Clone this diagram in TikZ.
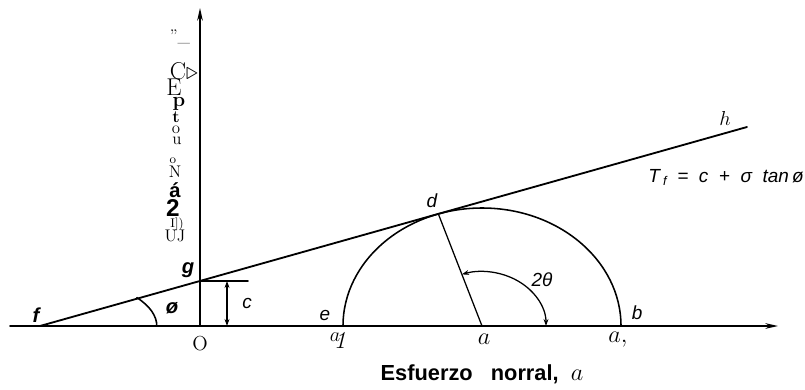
\documentclass[tikz,border=0pt]{standalone}
\usepackage{amsmath,amssymb}
\usepackage{fontspec}
\setsansfont{Liberation Sans}
\usepackage{tikz}
\usetikzlibrary{arrows.meta,positioning,calc}

\begin{document}
\begin{tikzpicture}[line cap=round,every node/.style={font=\fontsize{13.5}{16}\sffamily\itshape,inner sep=1pt},
 axis/.style={line width=1.1pt,-{Stealth[length=9pt,width=4pt]}},
 envol/.style={line width=1.3pt},
 mohr/.style={line width=1.1pt},
 cota/.style={line width=0.9pt,{Stealth[length=5pt,width=3.5pt]}-{Stealth[length=5pt,width=3.5pt]}},
 rlbl/.style={font=\LARGE\rmfamily}]
\useasboundingbox (-5,-1.575) rectangle (15.125,8.15);
\coordinate (O) at (0,0);\coordinate (f) at (-4,0);
\coordinate (g) at (0,1.126);\coordinate (h) at (13.675,4.975);
\coordinate (a) at (7.05,0);\coordinate (e) at (3.575,0);\coordinate (b) at (10.525,0);
\path (a) ++(108.3:3.475 and 2.95) coordinate (d);
\coordinate (xs) at (-4.75,0);\coordinate (xe) at (14.45,0);\coordinate (ye) at (0,7.95);
\coordinate (gc) at (1.2,1.126);
\coordinate (c1) at (0.675,1.126);\coordinate (c0) at (0.675,0);
% axes
\draw[axis] (xs)--(xe);
\draw[axis] (O)--(ye);
% envelope and circle
\draw[envol] (f)--(h);
\draw[mohr] (e) arc[start angle=180,end angle=0,x radius=3.475,y radius=2.95];
\draw[mohr,line width=0.9pt] (a)--(d);
\draw[cota] ($(a)+(1.6,0)$) arc[start angle=0,end angle=108.3,x radius=1.6,y radius=1.36];
\draw[mohr] ($(f)+(2.92,0)$) arc[start angle=0,end angle=34,x radius=2.92,y radius=1.27];
\draw[mohr] (g)--(gc);
\draw[cota] (c1)--(c0);
% labels
\node[font=\Large\sffamily\itshape\bfseries] (fl) at (-4.1,0.27) {f};
\node[font=\Large\sffamily\itshape\bfseries] (gl) at (-0.3,1.4) {g};
\node[font=\Large\sffamily\itshape\bfseries] (phil) at (-0.7,0.45) {ø};
\node (cl) at (1.18,0.575) {c};
\node[font=\Large\rmfamily] (Ol) at (0,-0.43) {O};
\node (el) at (3.125,0.275) {e};
\node[font=\rmfamily] (ql) at (3.45,-0.35) {\raisebox{.5ex}{\Large$a$}\kern-.45em\raisebox{-.6ex}{\LARGE\itshape 1}};
\node[rlbl] (al) at (7.1,-0.33) {$a$};
\node[rlbl] (a1l) at (10.45,-0.35) {$a,$};
\node (bl) at (10.93,0.325) {b};
\node (dl) at (5.8,3.125) {d};
\node (thl) at (8.55,1.15) {2θ};
\node[font=\Large\rmfamily] (hl) at (13.125,5.2) {$h$};
\node[anchor=east,inner sep=0pt] (law) at (15.1,3.72) {T\,{\small\raisebox{-0.4ex}{f}}\ \ =\ \ c\ \ +\ \ σ\ \ tan\,ø};
\node[font=\fontsize{15.5}{18}\sffamily\bfseries] (eje) at (7.05,-1.2) {Esfuerzo\ \ \ norral,\ \ {\LARGE$a$}};
% vertical axis text
\foreach \x/\y/\t [count=\i] in {-0.5/7.225/{\large\rmfamily\upshape ''\_},
  -0.4/6.375/{\LARGE\rmfamily\upshape C$\triangleright$},
  -0.65/5.97/{\LARGE\rmfamily\upshape E},
  -0.525/5.56/{\Large\rmfamily\upshape\bfseries p},
  -0.6/5.22/{\large\rmfamily\upshape\bfseries t},
  -0.6/4.9/{\large\rmfamily\upshape o},
  -0.575/4.63/{\large\rmfamily\upshape u},
  -0.675/4.12/{\small\rmfamily\upshape o},
  -0.625/3.85/{\large\rmfamily\upshape N},
  -0.625/3.4/{\Large\sffamily\upshape\bfseries á},
  -0.675/2.95/{\LARGE\sffamily\upshape\bfseries 2},
  -0.575/2.55/{\small\rmfamily\upshape I])},
  -0.625/2.25/{\large\rmfamily\upshape UJ}}
  \node[inner sep=0pt] (v\i) at (\x,\y) {\t};
\end{tikzpicture}
\end{document}
